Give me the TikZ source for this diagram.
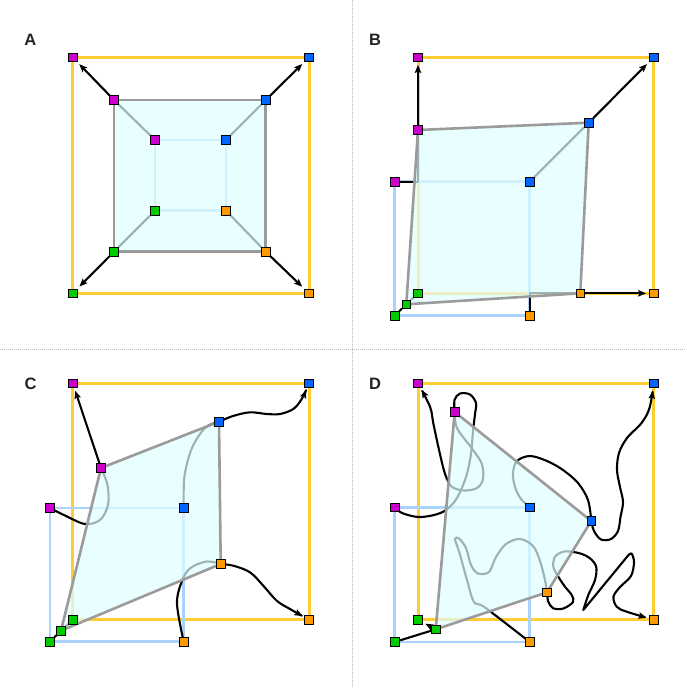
\documentclass[tikz,border=0pt]{standalone}
\usepackage{fontspec}
\setmainfont{Liberation Sans}
\usetikzlibrary{arrows.meta}
\pgfdeclarelayer{bgL}
\pgfdeclarelayer{fillL}
\pgfsetlayers{bgL,fillL,main}
\definecolor{cM}{RGB}{204,0,204}
\definecolor{cB}{RGB}{0,102,255}
\definecolor{cG}{RGB}{0,204,0}
\definecolor{cO}{RGB}{255,153,0}
\definecolor{cY}{RGB}{255,204,51}
\definecolor{cL}{RGB}{170,210,250}
\definecolor{cF}{RGB}{224,255,255}
\definecolor{cE}{RGB}{155,155,155}
\definecolor{cDiv}{RGB}{185,185,185}
\definecolor{cT}{RGB}{35,35,35}
\begin{document}
\begin{tikzpicture}[x=1pt,y=-1pt,
  pt/.style={rectangle,draw=black,line width=0.8pt,minimum size=8.5pt,inner sep=0pt},
  M/.style={pt,fill=cM}, Bl/.style={pt,fill=cB}, G/.style={pt,fill=cG}, O/.style={pt,fill=cO},
  outerbox/.style={draw=cY,line width=3pt},
  backbox/.style={draw=cL,line width=2.5pt},
  face/.style={fill=cF,fill opacity=0.7,draw=cE,line width=2.6pt,line join=round},
  link/.style={draw=black,line width=2.1pt,line cap=round,line join=round},
  arr/.style={link,-{Stealth[length=8pt,width=6.5pt,inset=1.5pt]},shorten >=3pt},
  parr/.style={link,-{Stealth[length=8pt,width=6.5pt,inset=1.5pt]},shorten >=7.5pt},
  curvy/.style={smooth,tension=0.55},
  lab/.style={font=\bfseries\fontsize{16.5}{16.5}\selectfont,text=cT,inner sep=0pt,anchor=base},
  divider/.style={draw=cDiv,line width=1pt,dash pattern=on 1pt off 1pt}
]
\useasboundingbox (0,0) rectangle (686,688);

% ---------------- labels
\node[lab] (labA) at (30.3,45) {A};
\node[lab] (labB) at (375,45) {B};
\node[lab] (labC) at (30.7,389.5) {C};
\node[lab] (labD) at (375,389.5) {D};

% ---------------- panel A nodes
\node[M]  (Aom) at (72.7,57.3) {};
\node[Bl] (Aob) at (309,57.3) {};
\node[O]  (Aoo) at (309,293.3) {};
\node[G]  (Aog) at (72.7,293.3) {};
\node[M]  (Afm) at (114,100) {};
\node[Bl] (Afb) at (265.7,100) {};
\node[O]  (Afo) at (265.7,251.7) {};
\node[G]  (Afg) at (114,251.7) {};
\node[M]  (Abm) at (155,140) {};
\node[Bl] (Abb) at (226,140) {};
\node[O]  (Abo) at (226,210.7) {};
\node[G]  (Abg) at (155,210.7) {};

% ---------------- panel B nodes
\node[M]  (Bom) at (418,57.3) {};
\node[Bl] (Bob) at (653.7,57.3) {};
\node[O]  (Boo) at (653.7,293.3) {};
\node[G]  (Bog) at (418,293.3) {};
\node[M]  (Bfm) at (418,130) {};
\node[Bl] (Bfb) at (588.7,122.7) {};
\node[O]  (Bfo) at (580.3,293.3) {};
\node[G]  (Bfg) at (406.3,304.3) {};
\node[M]  (Bbm) at (394.7,181.7) {};
\node[Bl] (Bbb) at (529.7,181.7) {};
\node[O]  (Bbo) at (529.7,315.7) {};
\node[G]  (Bbg) at (394.7,315.7) {};

% ---------------- panel C nodes
\node[M]  (Com) at (72.7,383.3) {};
\node[Bl] (Cob) at (309,383.3) {};
\node[O]  (Coo) at (309,619.7) {};
\node[G]  (Cog) at (72.7,619.7) {};
\node[M]  (Cfm) at (101,468) {};
\node[Bl] (Cfb) at (219,421.7) {};
\node[O]  (Cfo) at (220.7,564) {};
\node[G]  (Cfg) at (61,630.7) {};
\node[M]  (Cbm) at (50,508) {};
\node[Bl] (Cbb) at (183.7,508) {};
\node[O]  (Cbo) at (183.7,641.7) {};
\node[G]  (Cbg) at (50,641.7) {};

% ---------------- panel D nodes
\node[M]  (Dom) at (418,383.3) {};
\node[Bl] (Dob) at (653.7,383.3) {};
\node[O]  (Doo) at (653.7,619.7) {};
\node[G]  (Dog) at (418,619.7) {};
\node[M]  (Dfm) at (454.7,412) {};
\node[Bl] (Dfb) at (591.3,521) {};
\node[O]  (Dfo) at (547,592.3) {};
\node[G]  (Dfg) at (435.7,629.3) {};
\node[M]  (Dbm) at (394.7,507.3) {};
\node[Bl] (Dbb) at (529.7,507.3) {};
\node[O]  (Dbo) at (529.7,642) {};
\node[G]  (Dbg) at (394.7,642) {};

% ================= bottom layer: boxes and connectors
\begin{pgfonlayer}{bgL}
\fill[white] (0,0) rectangle (686,688);
\draw[divider] (0,349) -- (686,349);
\draw[divider] (352.5,0) -- (352.5,688);

% ---- A
\draw[outerbox] (Aom.center) -- (Aob.center) -- (Aoo.center) -- (Aog.center) -- cycle;
\draw[backbox] (Abm.center) -- (Abb.center) -- (Abo.center) -- (Abg.center) -- cycle;
\draw[link] (Abm) -- (Afm);
\draw[link] (Abb) -- (Afb);
\draw[link] (Abo) -- (Afo);
\draw[link] (Abg) -- (Afg);
\draw[arr] (Afm) -- (Aom);
\draw[arr] (Afb) -- (Aob);
\draw[arr] (Afo) -- (Aoo);
\draw[arr] (Afg) -- (Aog);

% ---- B
\draw[outerbox] (Bom.center) -- (Bob.center) -- (Boo.center) -- (Bog.center) -- cycle;
\draw[backbox] (Bbm.center) -- (Bbb.center) -- (Bbo.center) -- (Bbg.center) -- cycle;
\draw[link] (Bbm.center) -| (Bfm.center);
\draw[link] (Bbb) -- (Bfb);
\draw[link] (Bbo.center) |- (Bfo.center);
\draw[link] (Bbg) -- (Bfg);
\draw[arr] (Bfm) -- (Bom);
\draw[arr] (Bfb) -- (Bob);
\draw[arr] (Bfo) -- (Boo);
\draw[link] (Bfg) -- (Bog);

% ---- C
\draw[outerbox] (Com.center) -- (Cob.center) -- (Coo.center) -- (Cog.center) -- cycle;
\draw[backbox] (Cbm.center) -- (Cbb.center) -- (Cbo.center) -- (Cbg.center) -- cycle;
\draw[link] plot[curvy] coordinates {(Cbm.center) (66,516) (85,524) (100,520) (108,505) (107.5,485) (Cfm.center)};
\draw[link] plot[curvy] coordinates {(Cbb.center) (184.5,476) (192,448) (205,428) (Cfb.center)};
\draw[link] plot[curvy] coordinates {(Cbo.center) (177,604) (181.7,581.7) (190,568.3) (206.7,561.5) (Cfo.center)};
\draw[link] (Cbg) -- (Cfg);
\draw[arr] (Cfm) -- (Com);
\draw[parr] plot[curvy] coordinates {(Cfb.center) (233,416) (250,412.3) (266.7,414) (280,414) (293.3,409) (301.7,399) (Cob.center)};
\draw[parr] plot[curvy] coordinates {(Cfo.center) (233.3,565.7) (250,572.3) (263.3,585.7) (276.7,600.7) (290,609) (Coo.center)};
\draw[link] (Cfg) -- (Cog);

% ---- D
\draw[outerbox] (Dom.center) -- (Dob.center) -- (Doo.center) -- (Dog.center) -- cycle;
\draw[backbox] (Dbm.center) -- (Dbb.center) -- (Dbo.center) -- (Dbg.center) -- cycle;
\draw[link] plot[curvy] coordinates {(Dbm.center) (402,513) (418,517) (434,515) (446,510) (457,498) (466,477) (471,454) (473,431) (475,414) (476,403) (470,394.5) (460,393.5) (454.5,400) (Dfm.center)};
\draw[parr] plot[curvy] coordinates {(Dfm.center) (457,428) (470,446) (481.5,463) (483,479) (477,488) (464,490.5) (452,487) (446.7,478.3) (443.3,468) (438.3,446.7) (433.3,423.3) (430,406.7) (Dom.center)};
\draw[link] plot[curvy] coordinates {(Dbb.center) (521,499) (515,487) (513,473) (517,461) (530,456) (547,461) (563,470) (578,483) (588,500) (Dfb.center)};
\draw[parr] plot[curvy] coordinates {(Dfb.center) (594,531) (601,539.5) (611,539) (618,531) (620.5,517) (623,502) (620,487) (617,470) (619,453) (627,438) (641.5,423) (649.5,408) (Dob.center)};
\draw[link] plot[curvy] coordinates {(Dbo.center) (485,607.5) (474,602) (467,580) (459.5,553) (455,539) (459,538.5) (466,548) (471,565) (478,573.5) (489,572) (496,557) (506,544) (520,539) (533,546) (540,561) (545,580) (Dfo.center)};
\draw[parr] plot[curvy] coordinates {(Dfo.center) (548.3,601.7) (553.3,608.3) (563.3,608.5) (573,602) (571.7,595) (565,586.7) (558.3,576.7) (553.3,566.7) (555,556.7) (563.3,551.7) (573.3,552) (582,554) (590,558.3) (596.2,566.7) (595,580) (588.3,595) (583.3,610)}
   -- plot[curvy] coordinates {(628.5,555) (631.5,553.5) (634,562) (631,576) (620,587) (613.5,596.7) (616.7,606.7) (626.7,611.7) (Doo.center)};
\draw[link] (Dbg) -- (Dfg);
\draw[arr] (Dfg) -- (Dog);
\end{pgfonlayer}

% ================= fill layer: front faces
\begin{pgfonlayer}{fillL}
\filldraw[face] (Afm.center) -- (Afb.center) -- (Afo.center) -- (Afg.center) -- cycle;
\filldraw[face] (Bfm.center) -- (Bfb.center) -- (Bfo.center) -- (Bfg.center) -- cycle;
\filldraw[face] (Cfm.center) -- (Cfb.center) -- (Cfo.center) -- (Cfg.center) -- cycle;
\filldraw[face] (Dfm.center) -- (Dfb.center) -- (Dfo.center) -- (Dfg.center) -- cycle;
\end{pgfonlayer}
\end{tikzpicture}
\end{document}
